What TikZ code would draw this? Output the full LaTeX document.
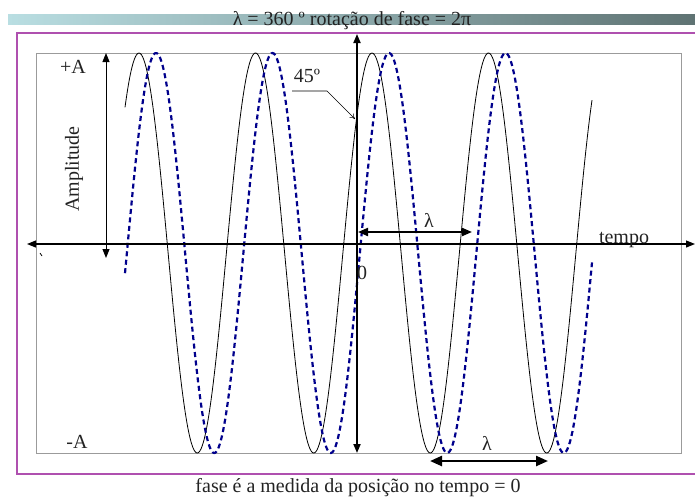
\documentclass[tikz,border=0pt]{standalone}
\usepackage{fontspec}
\setmainfont{Liberation Serif}
\usetikzlibrary{arrows.meta}
\definecolor{framepurple}{RGB}{175,80,175}
\definecolor{boxgray}{RGB}{155,155,155}
\definecolor{wavblue}{RGB}{0,0,140}
\definecolor{barleft}{RGB}{185,222,226}
\definecolor{barright}{RGB}{95,115,115}
\definecolor{txt}{RGB}{35,35,35}
\begin{document}
\begin{tikzpicture}[x=1pt,y=-1pt,
  lab/.style={font=\fontsize{20}{24}\selectfont, text=txt, inner sep=0pt, anchor=base},
  lamarrow/.style={line width=2pt, {Triangle[length=10pt,width=8pt]}-{Triangle[length=10pt,width=8pt]}},
  solidwave/.style={line width=0.8pt, black},
  dashwave/.style={line width=2.2pt, wavblue, dash pattern=on 5pt off 3.5pt}]
\useasboundingbox (0,0) rectangle (695,499);
% header bar
\shade[left color=barleft, right color=barright] (8,14) rectangle (695,24);
\node[lab] (title) at (352,25.5) {λ = 360 º rotação de fase = 2π};
% frame and box
\draw[framepurple, line width=1.5pt] (695,33) -- (17,33) -- (17,474) -- (695,474);
\draw[boxgray, line width=1pt] (36,53) rectangle (681,453);
% waves
\draw[solidwave] plot[domain=125:592, samples=400, smooth] (\x, {253-200*cos(3.09013*(\x-139))});
\draw[dashwave] plot[domain=125:592, samples=400, smooth] (\x, {253-200*cos(3.09013*(\x-156))});
% axes
\coordinate (axL) at (27,244);
\coordinate (axR) at (695,244);
\draw[line width=1.1pt, {Triangle[length=9pt,width=7pt]}-{Triangle[length=9pt,width=7pt]}] (axL) -- (axR);
\coordinate (vT) at (357,34);
\coordinate (vB) at (357,453);
\draw[line width=1.8pt, {Triangle[length=9pt,width=7pt]}-{Triangle[length=9pt,width=7pt]}] (vB) -- (vT);
% amplitude arrow
\coordinate (ampT) at (106,53);
\coordinate (ampB) at (106,258);
\draw[line width=1pt, {Triangle[length=9pt,width=7pt]}-{Triangle[length=9pt,width=7pt]}] (ampT) -- (ampB);
\node[font=\fontsize{20}{24}\selectfont, text=txt, inner sep=0pt, rotate=90] (amp) at (74,169) {Amplitude};
% small tick
\coordinate (tk1) at (40,253);
\coordinate (tk2) at (42,256);
\draw[line width=0.8pt] (tk1) -- (tk2);
% labels
\node[lab] (plusA) at (73,73) {+A};
\node[lab] (minusA) at (77,448) {-A};
\node[lab] (tempo) at (624,243) {tempo};
\node[lab] (zero) at (362,279) {0};
% 45 degrees
\node[lab] (deg) at (307,82) {45º};
\coordinate (d1) at (292,91);
\coordinate (d2) at (327,91);
\coordinate (d3) at (355,119);
\draw[line width=0.6pt, -{To[length=5pt,width=6pt]}] (d1) -- (d2) -- (d3);
% lambda arrows
\coordinate (l1a) at (358,232);
\coordinate (l1b) at (472,232);
\draw[lamarrow] (l1a) -- (l1b);
\node[lab] (lam1) at (429,227) {λ};
\coordinate (l2a) at (430,461);
\coordinate (l2b) at (548,461);
\draw[line width=2.4pt, {Triangle[length=12pt,width=10pt]}-{Triangle[length=12pt,width=10pt]}] (l2a) -- (l2b);
\node[lab] (lam2) at (487,450) {λ};
% caption
\node[lab] (caption) at (358,492.5) {fase é a medida da posição no tempo = 0};
\end{tikzpicture}
\end{document}
